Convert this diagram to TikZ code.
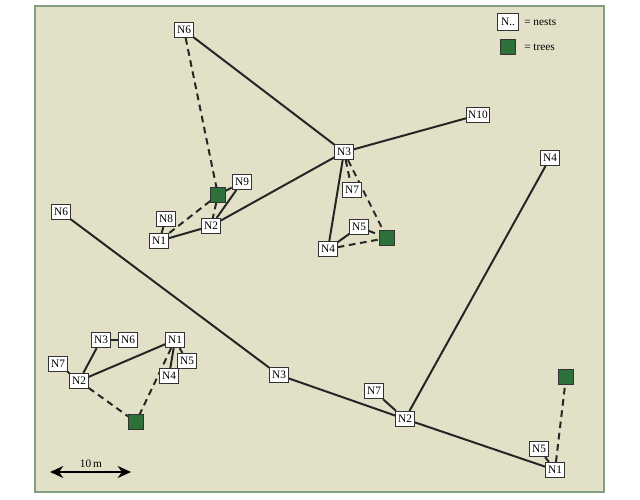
\documentclass[tikz,border=0pt]{standalone}
\usepackage{fontspec}
\setmainfont{Liberation Serif}
\usetikzlibrary{arrows.meta}
\pgfdeclarelayer{bg}
\pgfdeclarelayer{edges}
\pgfsetlayers{bg,edges,main}
\definecolor{paper}{HTML}{E2E1C8}
\definecolor{frame}{HTML}{7FA07F}
\definecolor{treegreen}{HTML}{2E7039}
\tikzset{
  nest/.style={draw=black!80, fill=white, line width=0.6pt, inner sep=1.2pt,
    minimum height=11.5pt, minimum width=14pt, font=\fontsize{8.5}{9}\selectfont},
  tree/.style={draw=black!80, fill=treegreen, line width=0.6pt, minimum size=11pt, inner sep=0pt},
  link/.style={line width=1.5pt, black!85},
  dlink/.style={line width=1.5pt, black!85, dash pattern=on 5pt off 3.5pt},
  lbl/.style={font=\fontsize{8.5}{9}\selectfont, inner sep=0pt}
}
\begin{document}
\begin{tikzpicture}[x=0.75pt,y=-0.75pt]
\useasboundingbox (0,0) rectangle (640,500);
\begin{pgfonlayer}{bg}
\fill[white] (0,0) rectangle (640,500);
\draw[frame, fill=paper, line width=1pt] (35,6) rectangle (604,492);
\end{pgfonlayer}
% legend
\node[nest, minimum width=16pt, minimum height=13pt] (legN) at (508,22) {N..};
\node[lbl, anchor=west] (legNt) at (524,22) {= nests};
\node[tree] (legT) at (508,47) {};
\node[lbl, anchor=west] (legTt) at (524,47) {= trees};
% top cluster
\node[nest] (a6) at (184,30) {N6};
\node[nest] (a9) at (242,182) {N9};
\node[tree] (t1) at (218,195) {};
\node[nest] (a8) at (166,219) {N8};
\node[nest] (a1) at (159,241) {N1};
\node[nest] (a2) at (211,226) {N2};
\node[nest] (a3) at (344,152) {N3};
\node[nest] (a10) at (478,115) {N10};
\node[nest] (a7) at (352,190) {N7};
\node[nest] (a5) at (359,227) {N5};
\node[nest] (a4) at (328,249) {N4};
\node[tree] (t2) at (387,238) {};
% right / middle group
\node[nest] (b4) at (550,158) {N4};
\node[nest] (b6) at (61,212) {N6};
\node[nest] (b3) at (279,375) {N3};
\node[nest] (b7) at (374,391) {N7};
\node[nest] (b2) at (405,419) {N2};
\node[nest] (b5) at (539,449) {N5};
\node[nest] (b1) at (555,470) {N1};
\node[tree] (t4) at (566,377) {};
% bottom-left group
\node[nest] (c3) at (101,340) {N3};
\node[nest] (c6) at (128,340) {N6};
\node[nest] (c1) at (175,340) {N1};
\node[nest] (c5) at (187,361) {N5};
\node[nest] (c4) at (169,376) {N4};
\node[nest] (c7) at (58,364) {N7};
\node[nest] (c2) at (79,381) {N2};
\node[tree] (t3) at (136,422) {};
% scale bar
\coordinate (sL) at (50,472);
\coordinate (sR) at (131,472);
\node[lbl] (sT) at (91,464) {10\,m};
\draw[line width=1.2pt, {Stealth[length=10pt,width=9pt]}-{Stealth[length=10pt,width=9pt]}] (sL) -- (sR);
\begin{pgfonlayer}{edges}
\draw[link] (a6) -- (a3);
\draw[link] (a3) -- (a10);
\draw[link] (a3) -- (a2);
\draw[link] (a2) -- (a1);
\draw[link] (a1) -- (a8);
\draw[link] (a2) -- (a9);
\draw[link] (a3) -- (a4);
\draw[link] (a4) -- (a5);
\draw[dlink] (a6) -- (t1);
\draw[dlink] (t1) -- (a9);
\draw[dlink] (t1) -- (a1);
\draw[dlink] (t1) -- (a2);
\draw[dlink] (a3) -- (a7);
\draw[dlink] (a3) -- (t2);
\draw[dlink] (a5) -- (t2);
\draw[dlink] (a4) -- (t2);
\draw[link] (b6) -- (b3);
\draw[link] (b3) -- (b2);
\draw[link] (b2) -- (b1);
\draw[link] (b2) -- (b7);
\draw[link] (b2) -- (b4);
\draw[link] (b1) -- (b5);
\draw[dlink] (b1) -- (t4);
\draw[link] (c3) -- (c6);
\draw[link] (c3) -- (c2);
\draw[link] (c7) -- (c2);
\draw[link] (c2) -- (c1);
\draw[link] (c1) -- (c5);
\draw[link] (c1) -- (c4);
\draw[dlink] (c2) -- (t3);
\draw[dlink] (c1) -- (t3);
\end{pgfonlayer}
\end{tikzpicture}
\end{document}
